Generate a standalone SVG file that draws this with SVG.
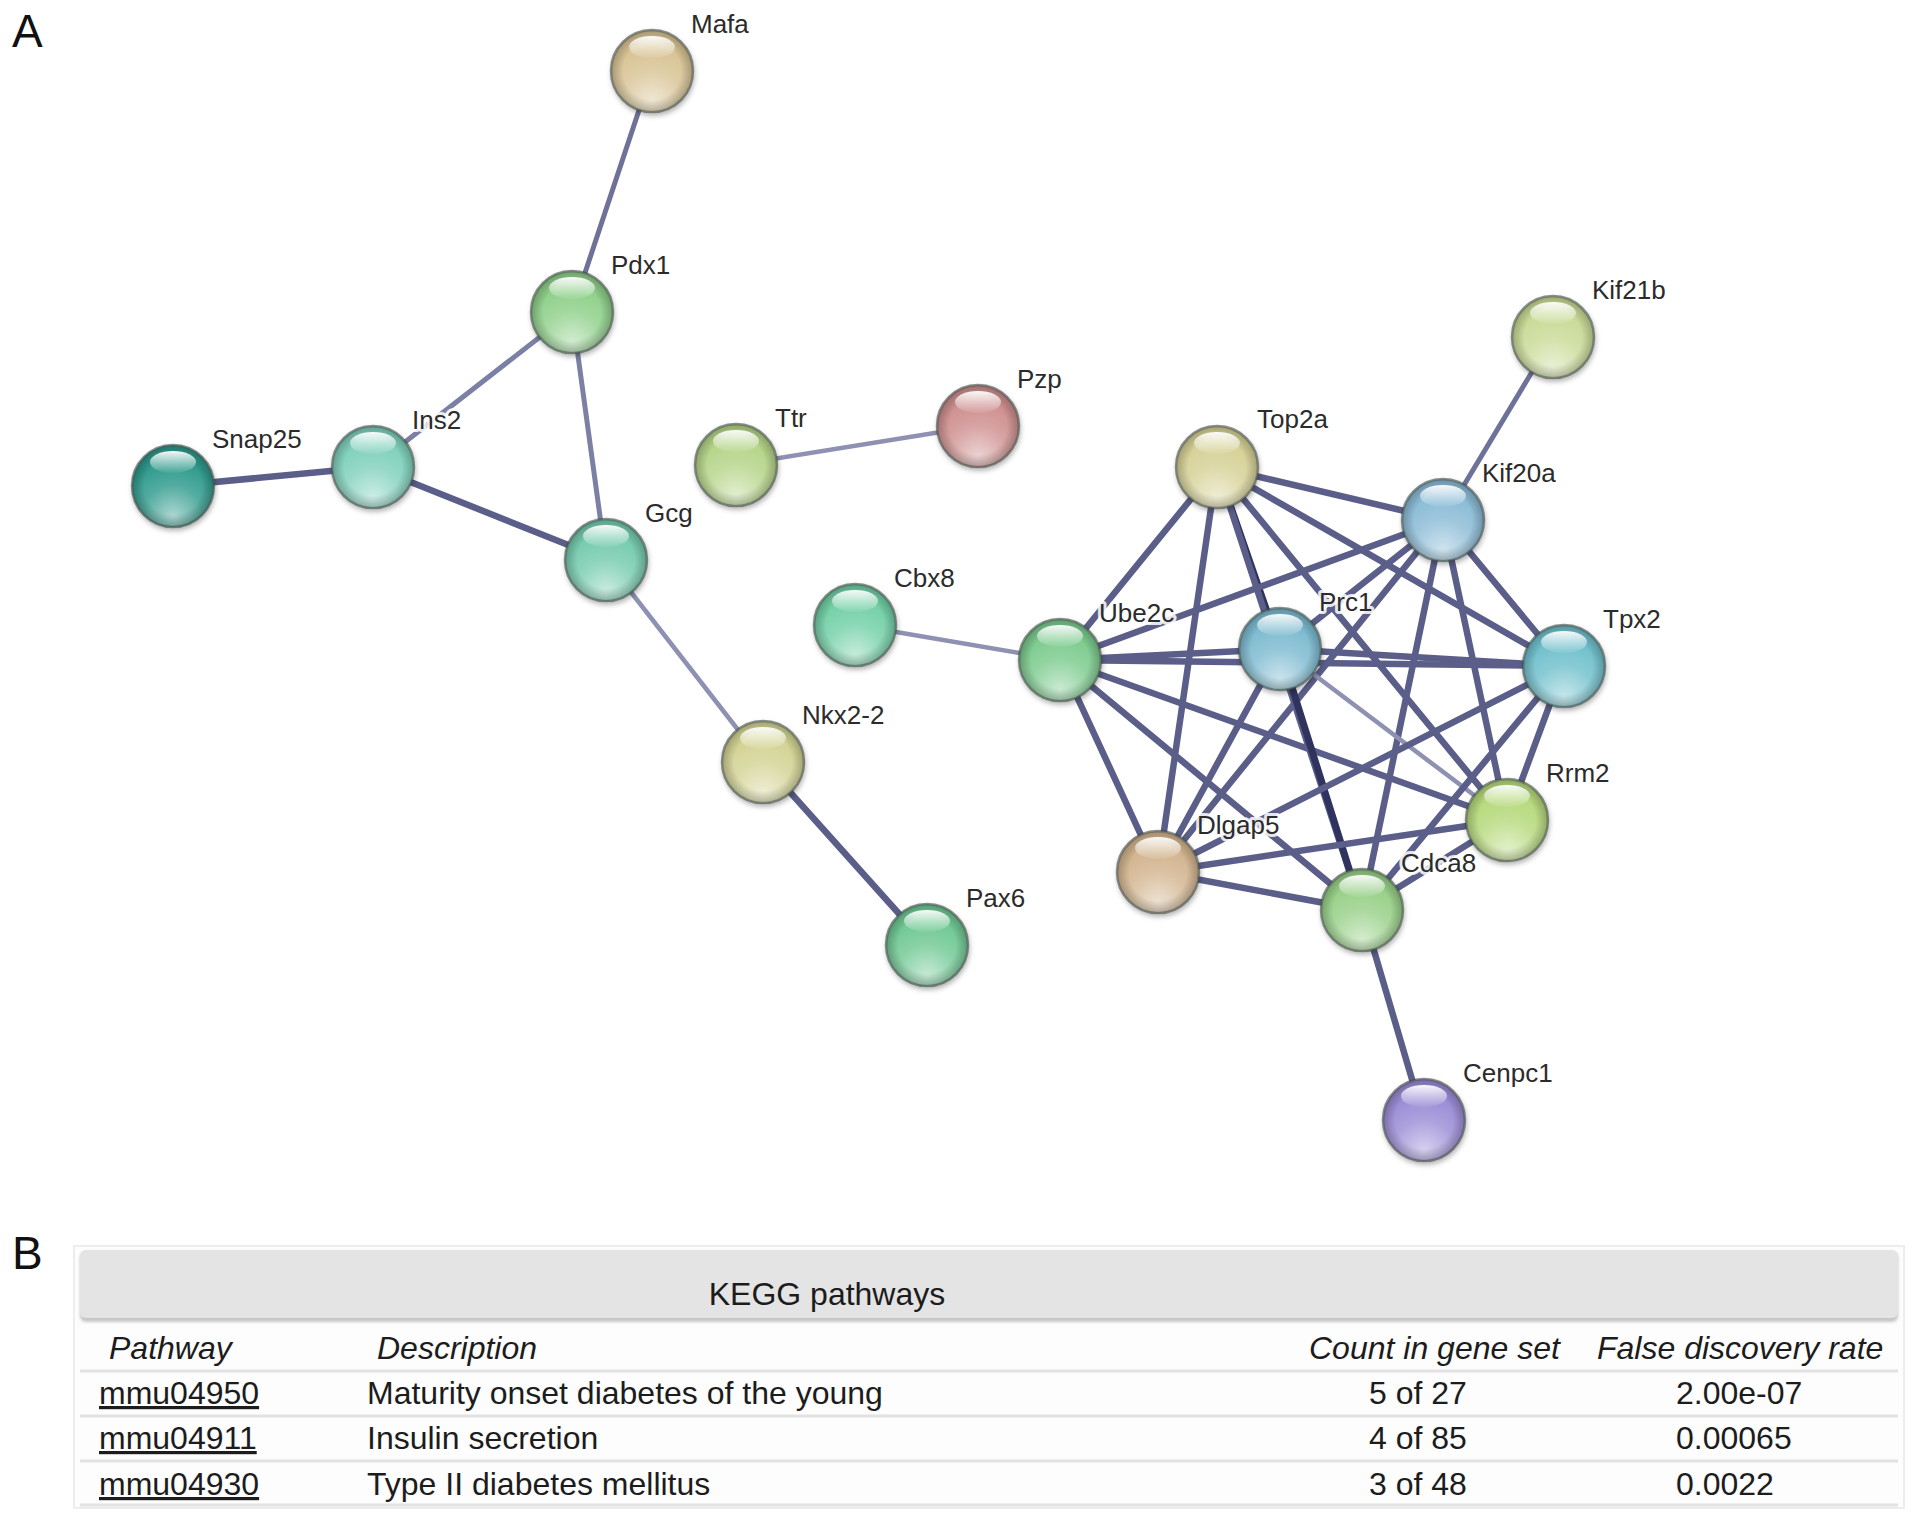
<svg xmlns="http://www.w3.org/2000/svg" width="1913" height="1520" viewBox="0 0 1913 1520">
<style>
.lbl{font-family:"Liberation Sans",Arial,sans-serif;font-size:26px;fill:#2b2b2b;stroke:#ffffff;stroke-opacity:.85;stroke-width:6px;paint-order:stroke;stroke-linejoin:round}
.base{stroke:#3f4a45;stroke-opacity:.6;stroke-width:2.5px}
.shade{fill:url(#shade)}
.rim{fill:url(#rim)}
.gloss{fill:url(#gloss)}
.e{stroke:#5a5e88;stroke-width:6.5px;stroke-linecap:round;fill:none}
.ed{stroke:#2f335e;stroke-width:7px}
.el{stroke:#8e91b2;stroke-width:4.5px}
.em{stroke:#6e7298;stroke-width:5px}
.tb{font-family:"Liberation Sans",Arial,sans-serif;font-size:32px;fill:#1c1c1c}
.it{font-style:italic}
.panel{font-family:"Liberation Sans",Arial,sans-serif;font-size:46px;fill:#111}
</style>
<defs>
<radialGradient id="shade" cx="50%" cy="88%" r="70%">
<stop offset="0" stop-color="#fff" stop-opacity=".6"/>
<stop offset=".55" stop-color="#fff" stop-opacity=".18"/>
<stop offset="1" stop-color="#fff" stop-opacity="0"/>
</radialGradient>
<radialGradient id="rim" cx="50%" cy="50%" r="50%">
<stop offset=".72" stop-color="#000" stop-opacity="0"/>
<stop offset="1" stop-color="#000" stop-opacity=".22"/>
</radialGradient>
<linearGradient id="gloss" x1="0" y1="0" x2="0" y2="1">
<stop offset="0" stop-color="#fff" stop-opacity=".95"/>
<stop offset="1" stop-color="#fff" stop-opacity=".05"/>
</linearGradient>
<filter id="sh" x="-30%" y="-30%" width="160%" height="160%">
<feDropShadow dx="1" dy="3" stdDeviation="2.5" flood-color="#000" flood-opacity=".3"/>
</filter>
<filter id="blur" x="-5%" y="-50%" width="110%" height="200%">
<feGaussianBlur stdDeviation="1.5"/>
</filter>
</defs>
<rect width="1913" height="1520" fill="#fff"/>
<text class="panel" x="12" y="47">A</text>
<text class="panel" x="12" y="1269">B</text>

<g id="edges">
<line class="e em" x1="652" y1="71" x2="572" y2="312"/>
<line class="e em" x1="572" y1="312" x2="373" y2="467" style="stroke:#7c80a4"/>
<line class="e em" x1="572" y1="312" x2="606" y2="560" style="stroke:#7c80a4"/>
<line class="e" x1="173" y1="486" x2="373" y2="467"/>
<line class="e" x1="373" y1="467" x2="606" y2="560"/>
<line class="e el" x1="606" y1="560" x2="763" y2="762"/>
<line class="e" x1="763" y1="762" x2="927" y2="945"/>
<line class="e el" x1="736" y1="465" x2="978" y2="426"/>
<line class="e el" x1="855" y1="625" x2="1060" y2="660"/>
<line class="e em" x1="1553" y1="337" x2="1443" y2="520"/>
<line class="e" x1="1362" y1="910" x2="1424" y2="1120"/>
<!-- cluster -->
<line class="e" x1="1217" y1="467" x2="1443" y2="520"/>
<line class="e" x1="1217" y1="467" x2="1060" y2="660"/>
<line class="e ed" x1="1217" y1="467" x2="1280" y2="649"/>
<line class="e" x1="1217" y1="467" x2="1564" y2="666"/>
<line class="e" x1="1217" y1="467" x2="1507" y2="820"/>
<line class="e" x1="1217" y1="467" x2="1362" y2="910"/>
<line class="e" x1="1217" y1="467" x2="1158" y2="872"/>
<line class="e" x1="1443" y1="520" x2="1060" y2="660"/>
<line class="e" x1="1443" y1="520" x2="1280" y2="649"/>
<line class="e" x1="1443" y1="520" x2="1564" y2="666"/>
<line class="e" x1="1443" y1="520" x2="1507" y2="820"/>
<line class="e" x1="1443" y1="520" x2="1362" y2="910"/>
<line class="e" x1="1443" y1="520" x2="1158" y2="872"/>
<line class="e" x1="1060" y1="660" x2="1280" y2="649"/>
<line class="e" x1="1060" y1="660" x2="1564" y2="666"/>
<line class="e" x1="1060" y1="660" x2="1507" y2="820"/>
<line class="e" x1="1060" y1="660" x2="1362" y2="910"/>
<line class="e" x1="1060" y1="660" x2="1158" y2="872"/>
<line class="e" x1="1280" y1="649" x2="1564" y2="666"/>
<line class="e el" x1="1280" y1="649" x2="1507" y2="820"/>
<line class="e ed" x1="1280" y1="649" x2="1362" y2="910"/>
<line class="e" x1="1280" y1="649" x2="1158" y2="872"/>
<line class="e" x1="1564" y1="666" x2="1507" y2="820"/>
<line class="e" x1="1564" y1="666" x2="1362" y2="910"/>
<line class="e" x1="1564" y1="666" x2="1158" y2="872"/>
<line class="e" x1="1507" y1="820" x2="1362" y2="910"/>
<line class="e" x1="1507" y1="820" x2="1158" y2="872"/>
<line class="e" x1="1158" y1="872" x2="1362" y2="910"/>
</g>

<g id="node-Mafa"><circle class="base" filter="url(#sh)" cx="652" cy="71" r="41" fill="#d8c394"/><circle class="shade" cx="652" cy="71" r="40"/><circle class="rim" cx="652" cy="71" r="40"/><ellipse class="gloss" cx="652" cy="47" rx="23" ry="11"/><text class="lbl" x="691" y="33">Mafa</text></g>
<g id="node-Pdx1"><circle class="base" filter="url(#sh)" cx="572" cy="312" r="41" fill="#8fd08a"/><circle class="shade" cx="572" cy="312" r="40"/><circle class="rim" cx="572" cy="312" r="40"/><ellipse class="gloss" cx="572" cy="288" rx="23" ry="11"/><text class="lbl" x="611" y="274">Pdx1</text></g>
<g id="node-Snap25"><circle class="base" filter="url(#sh)" cx="173" cy="486" r="41" fill="#2f9a8c"/><circle class="shade" cx="173" cy="486" r="40"/><circle class="rim" cx="173" cy="486" r="40"/><ellipse class="gloss" cx="173" cy="462" rx="23" ry="11"/><text class="lbl" x="212" y="448">Snap25</text></g>
<g id="node-Ins2"><circle class="base" filter="url(#sh)" cx="373" cy="467" r="41" fill="#7fd0bc"/><circle class="shade" cx="373" cy="467" r="40"/><circle class="rim" cx="373" cy="467" r="40"/><ellipse class="gloss" cx="373" cy="443" rx="23" ry="11"/><text class="lbl" x="412" y="429">Ins2</text></g>
<g id="node-Gcg"><circle class="base" filter="url(#sh)" cx="606" cy="560" r="41" fill="#74cbae"/><circle class="shade" cx="606" cy="560" r="40"/><circle class="rim" cx="606" cy="560" r="40"/><ellipse class="gloss" cx="606" cy="536" rx="23" ry="11"/><text class="lbl" x="645" y="522">Gcg</text></g>
<g id="node-Ttr"><circle class="base" filter="url(#sh)" cx="736" cy="465" r="41" fill="#b5d488"/><circle class="shade" cx="736" cy="465" r="40"/><circle class="rim" cx="736" cy="465" r="40"/><ellipse class="gloss" cx="736" cy="441" rx="23" ry="11"/><text class="lbl" x="775" y="427">Ttr</text></g>
<g id="node-Pzp"><circle class="base" filter="url(#sh)" cx="978" cy="426" r="41" fill="#cf8f8f"/><circle class="shade" cx="978" cy="426" r="40"/><circle class="rim" cx="978" cy="426" r="40"/><ellipse class="gloss" cx="978" cy="402" rx="23" ry="11"/><text class="lbl" x="1017" y="388">Pzp</text></g>
<g id="node-Top2a"><circle class="base" filter="url(#sh)" cx="1217" cy="467" r="41" fill="#d6d196"/><circle class="shade" cx="1217" cy="467" r="40"/><circle class="rim" cx="1217" cy="467" r="40"/><ellipse class="gloss" cx="1217" cy="443" rx="23" ry="11"/><text class="lbl" x="1257" y="428">Top2a</text></g>
<g id="node-Kif21b"><circle class="base" filter="url(#sh)" cx="1553" cy="337" r="41" fill="#c9da96"/><circle class="shade" cx="1553" cy="337" r="40"/><circle class="rim" cx="1553" cy="337" r="40"/><ellipse class="gloss" cx="1553" cy="313" rx="23" ry="11"/><text class="lbl" x="1592" y="299">Kif21b</text></g>
<g id="node-Kif20a"><circle class="base" filter="url(#sh)" cx="1443" cy="520" r="41" fill="#8abbd6"/><circle class="shade" cx="1443" cy="520" r="40"/><circle class="rim" cx="1443" cy="520" r="40"/><ellipse class="gloss" cx="1443" cy="496" rx="23" ry="11"/><text class="lbl" x="1482" y="482">Kif20a</text></g>
<g id="node-Cbx8"><circle class="base" filter="url(#sh)" cx="855" cy="625" r="41" fill="#72d0a6"/><circle class="shade" cx="855" cy="625" r="40"/><circle class="rim" cx="855" cy="625" r="40"/><ellipse class="gloss" cx="855" cy="601" rx="23" ry="11"/><text class="lbl" x="894" y="587">Cbx8</text></g>
<g id="node-Ube2c"><circle class="base" filter="url(#sh)" cx="1060" cy="660" r="41" fill="#7ccb8e"/><circle class="shade" cx="1060" cy="660" r="40"/><circle class="rim" cx="1060" cy="660" r="40"/><ellipse class="gloss" cx="1060" cy="636" rx="23" ry="11"/><text class="lbl" x="1099" y="622">Ube2c</text></g>
<g id="node-Prc1"><circle class="base" filter="url(#sh)" cx="1280" cy="649" r="41" fill="#7cbad0"/><circle class="shade" cx="1280" cy="649" r="40"/><circle class="rim" cx="1280" cy="649" r="40"/><ellipse class="gloss" cx="1280" cy="625" rx="23" ry="11"/><text class="lbl" x="1319" y="611">Prc1</text></g>
<g id="node-Tpx2"><circle class="base" filter="url(#sh)" cx="1564" cy="666" r="41" fill="#6fc0cc"/><circle class="shade" cx="1564" cy="666" r="40"/><circle class="rim" cx="1564" cy="666" r="40"/><ellipse class="gloss" cx="1564" cy="642" rx="23" ry="11"/><text class="lbl" x="1603" y="628">Tpx2</text></g>
<g id="node-Nkx2-2"><circle class="base" filter="url(#sh)" cx="763" cy="762" r="41" fill="#d3d394"/><circle class="shade" cx="763" cy="762" r="40"/><circle class="rim" cx="763" cy="762" r="40"/><ellipse class="gloss" cx="763" cy="738" rx="23" ry="11"/><text class="lbl" x="802" y="724">Nkx2-2</text></g>
<g id="node-Rrm2"><circle class="base" filter="url(#sh)" cx="1507" cy="820" r="41" fill="#b6d97c"/><circle class="shade" cx="1507" cy="820" r="40"/><circle class="rim" cx="1507" cy="820" r="40"/><ellipse class="gloss" cx="1507" cy="796" rx="23" ry="11"/><text class="lbl" x="1546" y="782">Rrm2</text></g>
<g id="node-Dlgap5"><circle class="base" filter="url(#sh)" cx="1158" cy="872" r="41" fill="#d2b48e"/><circle class="shade" cx="1158" cy="872" r="40"/><circle class="rim" cx="1158" cy="872" r="40"/><ellipse class="gloss" cx="1158" cy="848" rx="23" ry="11"/><text class="lbl" x="1197" y="834">Dlgap5</text></g>
<g id="node-Cdca8"><circle class="base" filter="url(#sh)" cx="1362" cy="910" r="41" fill="#98d088"/><circle class="shade" cx="1362" cy="910" r="40"/><circle class="rim" cx="1362" cy="910" r="40"/><ellipse class="gloss" cx="1362" cy="886" rx="23" ry="11"/><text class="lbl" x="1401" y="872">Cdca8</text></g>
<g id="node-Pax6"><circle class="base" filter="url(#sh)" cx="927" cy="945" r="41" fill="#70c894"/><circle class="shade" cx="927" cy="945" r="40"/><circle class="rim" cx="927" cy="945" r="40"/><ellipse class="gloss" cx="927" cy="921" rx="23" ry="11"/><text class="lbl" x="966" y="907">Pax6</text></g>
<g id="node-Cenpc1"><circle class="base" filter="url(#sh)" cx="1424" cy="1120" r="41" fill="#9b8cd6"/><circle class="shade" cx="1424" cy="1120" r="40"/><circle class="rim" cx="1424" cy="1120" r="40"/><ellipse class="gloss" cx="1424" cy="1096" rx="23" ry="11"/><text class="lbl" x="1463" y="1082">Cenpc1</text></g>

<g id="table">
<rect x="74" y="1246" width="1830" height="262" fill="#fdfdfd" stroke="#ededed" stroke-width="2"/>
<rect x="80" y="1252" width="1818" height="70" rx="6" fill="#c6c6c6" filter="url(#blur)"/>
<rect x="80" y="1250" width="1818" height="68" rx="6" fill="#e4e4e4"/>
<g stroke="#e2e2e2" stroke-width="3">
<line x1="80" y1="1371" x2="1898" y2="1371"/>
<line x1="80" y1="1416" x2="1898" y2="1416"/>
<line x1="80" y1="1461" x2="1898" y2="1461"/>
<line x1="80" y1="1505" x2="1898" y2="1505"/>
</g>
<text class="tb" x="827" y="1305" text-anchor="middle">KEGG pathways</text>
<text class="tb it" x="109" y="1359">Pathway</text>
<text class="tb it" x="377" y="1359">Description</text>
<text class="tb it" x="1309" y="1359">Count in gene set</text>
<text class="tb it" x="1597" y="1359">False discovery rate</text>
<text class="tb" x="99" y="1404" text-decoration="underline">mmu04950</text>
<text class="tb" x="367" y="1404">Maturity onset diabetes of the young</text>
<text class="tb" x="1369" y="1404">5 of 27</text>
<text class="tb" x="1676" y="1404">2.00e-07</text>
<text class="tb" x="99" y="1449" text-decoration="underline">mmu04911</text>
<text class="tb" x="367" y="1449">Insulin secretion</text>
<text class="tb" x="1369" y="1449">4 of 85</text>
<text class="tb" x="1676" y="1449">0.00065</text>
<text class="tb" x="99" y="1495" text-decoration="underline">mmu04930</text>
<text class="tb" x="367" y="1495">Type II diabetes mellitus</text>
<text class="tb" x="1369" y="1495">3 of 48</text>
<text class="tb" x="1676" y="1495">0.0022</text>
</g>
</svg>
